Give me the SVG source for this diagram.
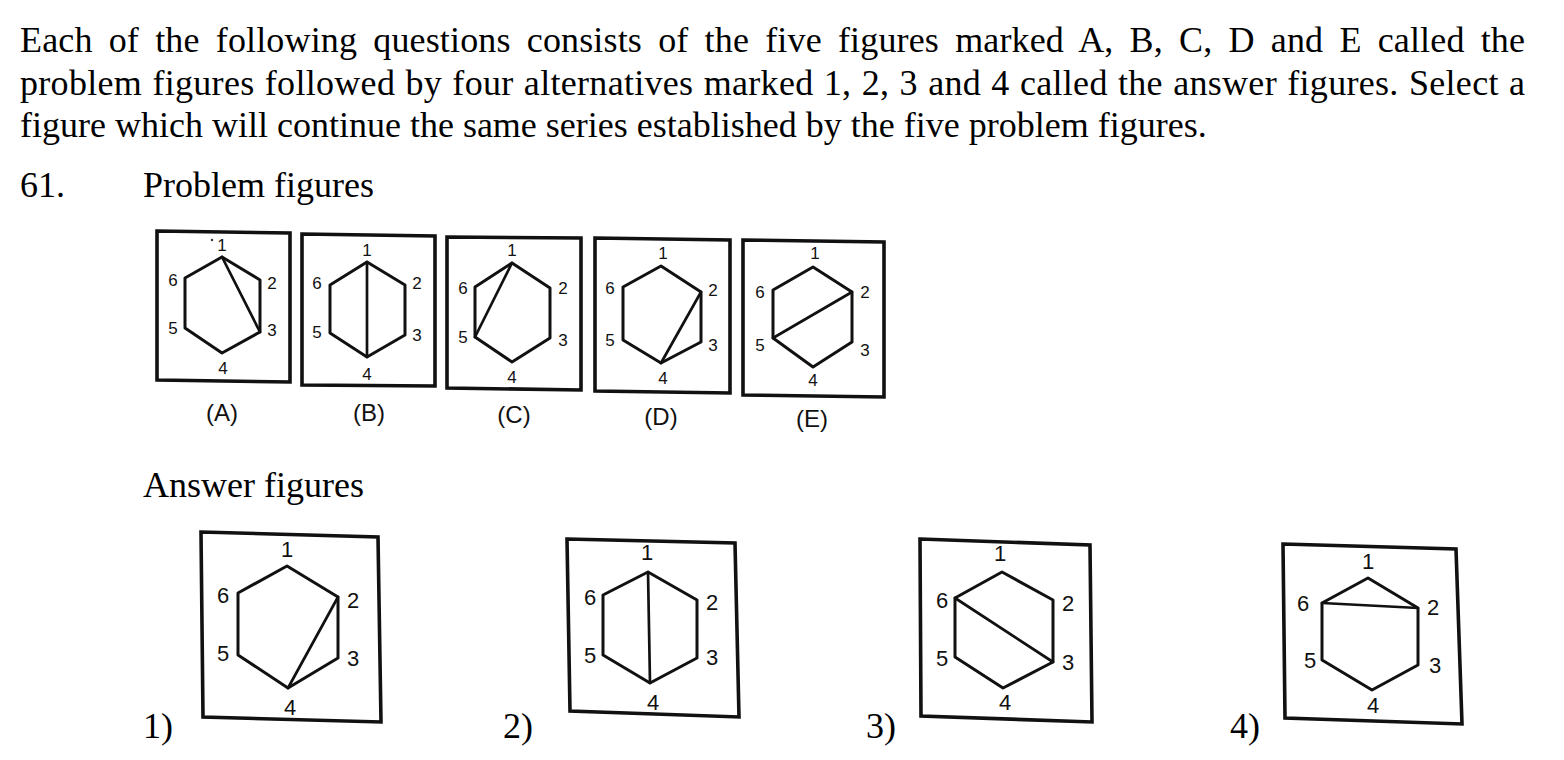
<svg xmlns="http://www.w3.org/2000/svg" width="1564" height="760" viewBox="0 0 1564 760">
<style>
.t{font-family:"Liberation Serif","Times New Roman",serif;font-size:36px;fill:#000}
.box{fill:none;stroke:#111;stroke-width:3.6;stroke-linejoin:miter}
.hex{fill:none;stroke:#111;stroke-width:3;stroke-linejoin:round}
.dg{stroke:#111;stroke-width:2.7;stroke-linecap:round}
.lp{font-family:"Liberation Sans","DejaVu Sans",sans-serif;font-size:17px;fill:#111;text-anchor:middle}
.la{font-family:"Liberation Sans","DejaVu Sans",sans-serif;font-size:22px;fill:#111;text-anchor:middle}
.cap{font-family:"Liberation Sans Narrow","Liberation Sans",sans-serif;font-size:24px;fill:#111;text-anchor:middle}
</style>
<rect width="1564" height="760" fill="#fff"/>
<g id="header">
<text class="t" x="20" y="52" textLength="1505" lengthAdjust="spacing" word-spacing="7">Each of the following questions consists of the five figures marked A, B, C, D and E called the</text>
<text class="t" x="20" y="95" textLength="1505" lengthAdjust="spacing" word-spacing="1">problem figures followed by four alternatives marked 1, 2, 3 and 4 called the answer figures. Select a</text>
<text class="t" x="20" y="137">figure which will continue the same series established by the five problem figures.</text>
<text class="t" x="20" y="197">61.</text>
<text class="t" x="143" y="197">Problem figures</text>
<text class="t" x="143" y="497">Answer figures</text>
</g>

<g id="figA">
<polygon class="box" points="157,231 290,233 290,382 157,380"/>
<polygon class="hex" points="222,257 260,280 260,332 222,353 185,328 185,278"/>
<line class="dg" x1="222" y1="257" x2="260" y2="332"/>
<circle cx="212" cy="240" r="1.2" fill="#333"/>
<text class="lp" x="222" y="251">1</text>
<text class="lp" x="272" y="289">2</text>
<text class="lp" x="272" y="336">3</text>
<text class="lp" x="223" y="374">4</text>
<text class="lp" x="173" y="334">5</text>
<text class="lp" x="173" y="286">6</text>
<text class="cap" x="222" y="421">(A)</text>
</g>

<g id="figB">
<polygon class="box" points="302,234 435,236 435,386 302,385"/>
<polygon class="hex" points="367,262 405,285 405,335 367,357 330,333 330,285"/>
<line class="dg" x1="367" y1="262" x2="367" y2="357"/>
<text class="lp" x="367" y="256">1</text>
<text class="lp" x="417" y="289">2</text>
<text class="lp" x="417" y="341">3</text>
<text class="lp" x="367" y="380">4</text>
<text class="lp" x="317" y="338">5</text>
<text class="lp" x="317" y="289">6</text>
<text class="cap" x="369" y="421">(B)</text>
</g>

<g id="figC">
<polygon class="box" points="447,237 581,238 581,390 447,388"/>
<polygon class="hex" points="512,263 550,288 550,338 512,362 475,337 475,287"/>
<line class="dg" x1="512" y1="263" x2="475" y2="337"/>
<text class="lp" x="512" y="256">1</text>
<text class="lp" x="563" y="294">2</text>
<text class="lp" x="563" y="346">3</text>
<text class="lp" x="512" y="383">4</text>
<text class="lp" x="463" y="343">5</text>
<text class="lp" x="463" y="294">6</text>
<text class="cap" x="514" y="423">(C)</text>
</g>

<g id="figD">
<polygon class="box" points="595,238 730,240 730,393 595,391"/>
<polygon class="hex" points="661,266 701,292 701,342 661,363 623,340 623,287"/>
<line class="dg" x1="701" y1="292" x2="661" y2="363"/>
<text class="lp" x="663" y="259">1</text>
<text class="lp" x="713" y="296">2</text>
<text class="lp" x="713" y="351">3</text>
<text class="lp" x="663" y="384">4</text>
<text class="lp" x="610" y="346">5</text>
<text class="lp" x="610" y="294">6</text>
<text class="cap" x="661" y="425">(D)</text>
</g>

<g id="figE">
<polygon class="box" points="743,240 884,242 884,397 743,395"/>
<polygon class="hex" points="813,267 852,292 852,342 813,367 773,338 773,290"/>
<line class="dg" x1="852" y1="292" x2="773" y2="338"/>
<text class="lp" x="815" y="259">1</text>
<text class="lp" x="865" y="298">2</text>
<text class="lp" x="865" y="356">3</text>
<text class="lp" x="813" y="386">4</text>
<text class="lp" x="760" y="351">5</text>
<text class="lp" x="760" y="298">6</text>
<text class="cap" x="812" y="427">(E)</text>
</g>

<g id="ans1">
<polygon class="box" points="201,532 378,537 381,722 203,717"/>
<polygon class="hex" points="287,566 338,597 338,658 288,688 238,655 238,593"/>
<line class="dg" x1="338" y1="597" x2="288" y2="688"/>
<text class="la" x="287" y="557">1</text>
<text class="la" x="353" y="608">2</text>
<text class="la" x="353" y="666">3</text>
<text class="la" x="290" y="715">4</text>
<text class="la" x="223" y="661">5</text>
<text class="la" x="223" y="603">6</text>
<text class="t" x="143" y="738">1)</text>
</g>

<g id="ans2">
<polygon class="box" points="567,539 735,543 739,717 570,711"/>
<polygon class="hex" points="648,572 697,600 697,658 650,683 603,655 603,595"/>
<line class="dg" x1="648" y1="572" x2="650" y2="683"/>
<text class="la" x="647" y="560">1</text>
<text class="la" x="712" y="610">2</text>
<text class="la" x="712" y="665">3</text>
<text class="la" x="653" y="710">4</text>
<text class="la" x="590" y="663">5</text>
<text class="la" x="590" y="605">6</text>
<text class="t" x="503" y="738">2)</text>
</g>

<g id="ans3">
<polygon class="box" points="920,539 1090,545 1092,722 921,716"/>
<polygon class="hex" points="1002,572 1053,600 1053,662 1003,688 955,657 955,598"/>
<line class="dg" x1="955" y1="598" x2="1053" y2="662"/>
<text class="la" x="1000" y="561">1</text>
<text class="la" x="1068" y="611">2</text>
<text class="la" x="1068" y="670">3</text>
<text class="la" x="1005" y="710">4</text>
<text class="la" x="942" y="666">5</text>
<text class="la" x="942" y="608">6</text>
<text class="t" x="866" y="738">3)</text>
</g>

<g id="ans4">
<polygon class="box" points="1283,544 1456,549 1462,724 1285,718"/>
<polygon class="hex" points="1368,578 1418,608 1418,665 1372,690 1322,660 1322,603"/>
<line class="dg" x1="1322" y1="603" x2="1418" y2="608"/>
<text class="la" x="1368" y="569">1</text>
<text class="la" x="1433" y="615">2</text>
<text class="la" x="1435" y="673">3</text>
<text class="la" x="1373" y="713">4</text>
<text class="la" x="1310" y="668">5</text>
<text class="la" x="1303" y="611">6</text>
<text class="t" x="1230" y="738">4)</text>
</g>

<g id="connectors"/>
</svg>
